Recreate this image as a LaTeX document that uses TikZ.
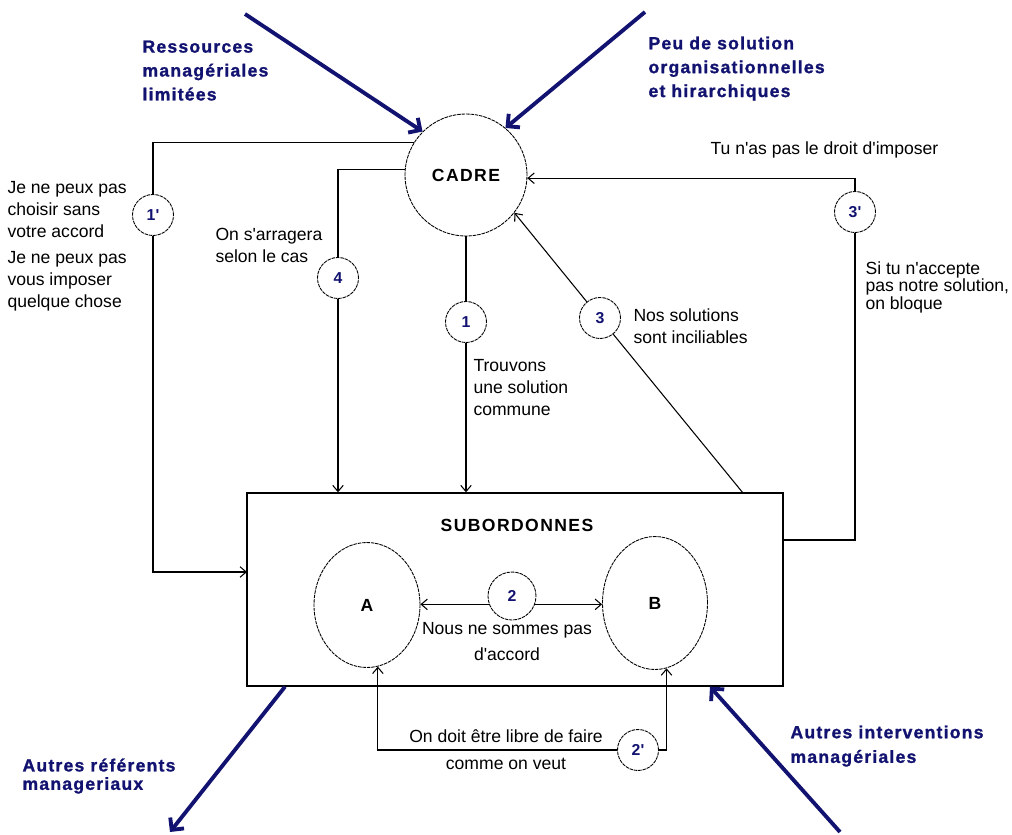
\documentclass[tikz,border=0pt]{standalone}
\usepackage{fontspec}
\setmainfont{Liberation Sans}
\newfontfamily\grasfont[LetterSpace=8]{Liberation Sans}
\newfontfamily\epaisfont[LetterSpace=7,FakeBold=1.2]{Liberation Sans Bold}
\usetikzlibrary{arrows.meta,shapes.geometric}
\definecolor{marine}{RGB}{18,18,112}
\newcommand{\apo}{\textquotesingle}
\tikzset{
  bulle/.style={draw, circle, dash pattern=on 2pt off 0.5pt, line width=0.5pt, minimum size=0.82cm, inner sep=0pt, text=marine, font=\grasfont\bfseries\fontsize{9}{10}\selectfont},
  rond/.style={draw, dash pattern=on 2pt off 0.5pt, line width=0.5pt, inner sep=0pt, font=\grasfont\bfseries\fontsize{10}{12}\selectfont},
  texte/.style={anchor=north west, align=left, inner sep=0pt, font=\fontsize{10}{12.5}\selectfont},
  etiquette/.style={anchor=north west, align=left, inner sep=0pt, text=marine, font=\epaisfont\fontsize{10}{13.6}\selectfont},
  fleche/.style={marine, line width=2.2pt, -{Straight Barb[length=5pt,width=10pt]}}
}
\begin{document}
\begin{tikzpicture}[x=0.02cm,y=-0.02cm,line width=0.6pt,>={Straight Barb[length=3.5pt,width=6pt]}]
  \pgfmathsetmacro{\rcadre}{2.44}
  \pgfmathsetmacro{\largeur}{10.72}
   \pgfmathsetmacro{\hauteur}{3.86}
  \useasboundingbox (0,0) rectangle (1012,835);
  \node[rond, circle, minimum size=\rcadre cm] (cadre) at (466,175) {CADRE};
  \node[draw, line width=0.8pt, minimum width=\largeur cm, minimum height=\hauteur cm] (sub) at (515,589.5) {};
  \node[rond, draw=none] (subtitre) at (517,525) {SUBORDONNES};
   \node[rond, ellipse, minimum width=2.12cm, minimum height=2.5cm] (A) at (367,605) {A};
   \node[rond, ellipse, minimum width=2.1cm, minimum height=2.66cm] (B) at (655,603) {B};
  \node[bulle] (n1p) at (153,215) {1\apo};
  \node[bulle] (n4) at (338,278) {4};
  \node[bulle] (n1) at (466,322) {1};
  \node[bulle] (n3) at (600,318) {3};
  \node[bulle] (n3p) at (855,212) {3\apo};
  \node[bulle, minimum height=0.96cm] (n2) at (512,596) {2};
  \node[bulle] (n2p) at (638,750) {2\apo};
  \coordinate (e1p) at (247,572);
  \coordinate (s3) at (743,493);
  \coordinate (s3p) at (783,540);
  \draw[->] (cadre.148) -| (n1p) |- (e1p);
  \draw[->] (cadre.175) -| (n4) -- (n4 |- sub.north);
  \draw[->] (cadre) -- (n1) -- (n1 |- sub.north);
  \draw[->] (s3) -- (n3) -- (cadre.-38);
  \draw[->] (s3p) -| (n3p) |- (cadre.-3);
  \draw[->] (n2.-160) -- (n2.-160 -| A.east);
  \draw[->] (n2.-20) -- (n2.-20 -| B.west);
  \draw[->] (n2p) -| (A.-80);
  \draw[->] (n2p) -| (B.-80);
  \coordinate (d1) at (245,14);
  \coordinate (d2) at (645,12);
  \coordinate (d3) at (170,832);
  \coordinate (d4) at (840,832);
  \draw[fleche] (d1) -- (cadre.135);
  \draw[fleche] (d2) -- (cadre.50);
  \draw[fleche] (sub.south -| 285,0) -- (d3);
  \draw[fleche] (d4) -- (sub.south -| 710,0);
  \node[texte] (t1pa) at (7,181) {Je ne peux pas\\choisir sans\\votre accord};
  \node[texte] (t1pb) at (7,251) {Je ne peux pas\\vous imposer\\quelque chose};
  \node[texte] (t4) at (215,228) {On s\apo arragera\\selon le cas};
  \node[texte] (t1) at (473,359) {Trouvons\\une solution\\commune};
  \node[texte] (t3) at (633,308) {Nos solutions\\sont inciliables};
  \node[texte] (t3pa) at (710,141) {Tu n\apo as pas le droit d\apo imposer};
  \node[texte, font=\fontsize{10}{10}\selectfont] (t3pb) at (865,261) {Si tu n\apo accepte\\pas notre solution,\\on bloque};
  \node[texte, anchor=north, align=center, font=\fontsize{10}{14.6}\selectfont] (t2) at (507,622) {Nous ne sommes pas\\d\apo accord};
  \node[texte, anchor=north, align=center, font=\fontsize{10}{15.4}\selectfont] (t2p) at (506,729) {On doit être libre de faire\\comme on veut};
  \node[etiquette] (ressources) at (142,40) {Ressources\\managériales\\limitées};
  \node[etiquette] (peu) at (648,36) {Peu de solution\\organisationnelles\\et hirarchiques};
  \node[etiquette, font=\epaisfont\fontsize{10}{10.5}\selectfont] (referents) at (22,758) {Autres référents\\manageriaux};
  \node[etiquette, font=\epaisfont\fontsize{10}{14}\selectfont] (interventions) at (790,725) {Autres interventions\\managériales};
\end{tikzpicture}
\end{document}
